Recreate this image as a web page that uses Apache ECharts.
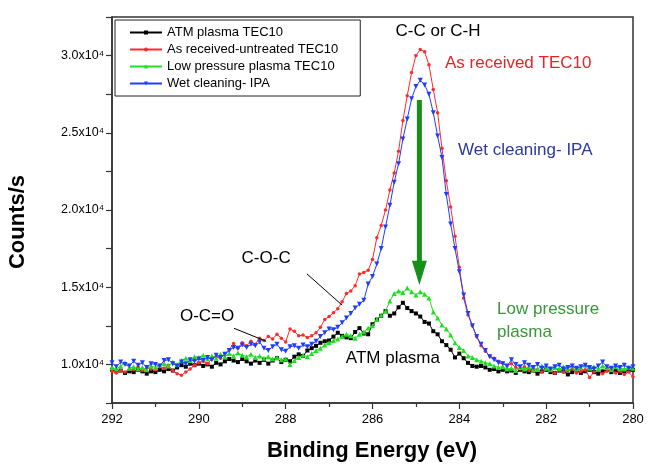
<!DOCTYPE html>
<html>
<head>
<meta charset="utf-8">
<script src="https://cdn.jsdelivr.net/npm/echarts@6/dist/echarts.min.js"></script>
<style>
  html, body { margin: 0; padding: 0; background: #fff; }
  #chart { width: 648px; height: 465px; }
</style>
</head>
<body>
<div id="chart"></div>
<script>
// binding energy grid (eV), 0.1 eV steps
const energy = [
  292.0, 291.9, 291.8, 291.7, 291.6, 291.5, 291.4, 291.3, 291.2, 291.1,
  291.0, 290.9, 290.8, 290.7, 290.6, 290.5, 290.4, 290.3, 290.2, 290.1,
  290.0, 289.9, 289.8, 289.7, 289.6, 289.5, 289.4, 289.3, 289.2, 289.1,
  289.0, 288.9, 288.8, 288.7, 288.6, 288.5, 288.4, 288.3, 288.2, 288.1,
  288.0, 287.9, 287.8, 287.7, 287.6, 287.5, 287.4, 287.3, 287.2, 287.1,
  287.0, 286.9, 286.8, 286.7, 286.6, 286.5, 286.4, 286.3, 286.2, 286.1,
  286.0, 285.9, 285.8, 285.7, 285.6, 285.5, 285.4, 285.3, 285.2, 285.1,
  285.0, 284.9, 284.8, 284.7, 284.6, 284.5, 284.4, 284.3, 284.2, 284.1,
  284.0, 283.9, 283.8, 283.7, 283.6, 283.5, 283.4, 283.3, 283.2, 283.1,
  283.0, 282.9, 282.8, 282.7, 282.6, 282.5, 282.4, 282.3, 282.2, 282.1,
  282.0, 281.9, 281.8, 281.7, 281.6, 281.5, 281.4, 281.3, 281.2, 281.1,
  281.0, 280.9, 280.8, 280.7, 280.6, 280.5, 280.4, 280.3, 280.2, 280.1,
  280.0
];

// ATM plasma TEC10
const atmPlasma = [
  9650, 9550, 9600, 9450, 9550, 9500, 9650, 9550, 9400, 9550,
  9500, 9650, 9550, 9700, 9600, 9800, 9950, 9850, 10050, 9950,
  10050, 9900, 10000, 9850, 10100, 10000, 10200, 10350, 10250, 10150,
  10350, 10200, 10050, 10250, 10100, 10300, 10050, 10250, 10400, 10150,
  10300, 10200, 10500, 10650, 10550, 10900, 11050, 11200, 11400, 11500,
  11550, 11800, 12050, 11850, 11750, 11700, 12100, 12350, 12000, 11950,
  12600, 12900, 13150, 13450, 13150, 13300, 13700, 13990, 13650, 13450,
  13300, 13100, 12750, 12650, 12150, 11950, 11500, 11250, 10950, 10450,
  10700, 10400, 10100, 9900, 9850, 9900, 9800, 9650, 9700, 9550,
  9650, 9550, 9600, 9450, 9650, 9550, 9500, 9600, 9400, 9550,
  9650, 9500, 9450, 9600, 9550, 9350, 9500, 9600, 9450, 9550,
  9650, 9500, 9400, 9550, 9650, 9500, 9600, 9450, 9550, 9600,
  9650
];

// As received-untreated TEC10
const asReceived = [
  9550, 9450, 9600, 9500, 9700, 9650, 9850, 9600, 9800, 9700,
  9650, 9850, 9750, 9950, 9600, 9400, 9300, 9500, 9700, 9950,
  10100, 10200, 10050, 10350, 10500, 10400, 10700, 10950, 11350, 11050,
  11400, 11200, 11500, 11300, 11700, 11550, 11800, 11650, 11950, 11700,
  11450, 12300, 12150, 11850, 11900, 11750, 11850, 12050, 12400, 12900,
  13100, 13350, 13600, 14050, 14600, 14750, 15100, 15850, 15950, 16100,
  16800, 18200, 19000, 20000, 21300, 22400, 23800, 25800, 27400, 28900,
  30000, 30400, 30250, 29400, 27800, 26300, 24000, 21900, 20200, 18300,
  16300, 14300, 13200, 12500, 11800, 11200, 10850, 10550, 10400, 10200,
  10100, 9900, 10050, 9800, 9700, 9850, 9600, 9750, 9650, 9500,
  9700, 9600, 9450, 9650, 9500, 9600, 9700, 9450, 9550, 9650,
  9150, 9500, 9600, 9400, 9550, 9650, 9450, 9550, 9350, 9500,
  9200
];

// Low pressure plasma TEC10
const lowPressure = [
  9800, 9700, 9900, 10100, 9750, 9850, 9700, 9800, 9650, 9900,
  9800, 9950, 10050, 9900, 10150, 10000, 10250, 10400, 10250, 10500,
  10450, 10600, 10350, 10550, 10400, 10650, 10500, 10700, 10550, 10750,
  10600, 10500, 10650, 10450, 10550, 10400, 10500, 10350, 10450, 10300,
  10350, 10000, 10250, 10450, 10600, 10500, 10700, 10900, 11050, 11250,
  11400, 11550, 11650, 11800, 11950, 11850, 11700, 11950, 12100, 12350,
  12500, 12900, 13200, 13450, 14100, 14600, 14750, 14650, 14950, 14700,
  14500, 14700, 14550, 14300, 13400, 13000, 12550, 12300, 11900, 11400,
  11100, 10900, 10550, 10450, 10300, 10200, 10100, 10050, 9900, 9800,
  9850, 9700, 9750, 9600, 9800, 9700, 9850, 9650, 9700, 9900,
  9750, 9650, 9800, 9700, 9850, 9750, 9900, 9700, 9800, 9950,
  9750, 9850, 9700, 9900, 9800, 9650, 9850, 9750, 9700, 9800,
  9750
];

// Wet cleaning- IPA
const wetCleaning = [
  10100, 9850, 10150, 10000, 9900, 10200, 9950, 10100, 9800, 10050,
  10000, 9900, 10250, 10300, 10050, 9900, 10150, 10050, 10300, 10200,
  10350, 10250, 10450, 10300, 10600, 10450, 10650, 10900, 11100, 11050,
  11250, 11100, 11300, 11200, 11450, 11050, 10900, 11150, 11300, 10950,
  10850, 11150, 11200, 11050, 11250, 11150, 11300, 11500, 11800, 12050,
  12300, 12250, 12400, 12700, 13000, 13300, 13650, 13900, 14150, 15200,
  15700, 16500, 17500, 18900, 20300, 21800, 23000, 24600, 25900, 27200,
  28000, 28400, 28100, 27500, 26300, 24800, 23400, 21000, 19100, 17500,
  16000, 14500, 13300, 12500, 11800, 11300, 10900, 10500, 10300, 10100,
  10050, 9900, 10300, 10000, 9850, 10100, 9950, 9800, 10000, 9750,
  9900, 9700, 9850, 9950, 9700, 9800, 9900, 9750, 9850, 9950,
  9800, 9700, 9900, 10150, 9850, 9750, 9900, 9800, 9950, 9750,
  9850
];

const seriesNames = ['ATM plasma TEC10', 'As received-untreated TEC10', 'Low pressure plasma TEC10', 'Wet cleaning- IPA'];
const seriesColors = ['#000000', '#ff2a2a', '#1fe01f', '#1f3dff'];
const xTicks = [280, 292, 2];
const yTicks = [7500, 32500, 2500];

const font = 'Arial, "Liberation Sans", sans-serif';
const chart = echarts.init(document.getElementById('chart'));

function pairs(vals) {
  return energy.map((e, i) => [e, vals[i]]);
}

function lineSeries(idx, vals, symbol, size, rotate) {
  return {
    name: seriesNames[idx],
    type: 'line',
    data: pairs(vals),
    symbol: symbol,
    symbolSize: size,
    symbolRotate: rotate || 0,
    showSymbol: true,
    color: seriesColors[idx],
    lineStyle: { width: 1, color: seriesColors[idx] },
    itemStyle: { color: seriesColors[idx] },
    animation: false,
    z: 3 + idx
  };
}

const option = {
  backgroundColor: '#fff',
  animation: false,
  grid: {
    left: 112, right: 15, top: 17, bottom: 62,
    show: true, borderColor: '#333', borderWidth: 1.5
  },
  legend: {
    orient: 'vertical',
    left: 115, top: 20,
    padding: [6, 22, 6, 14],
    itemWidth: 32, itemHeight: 5, itemGap: 4,
    borderColor: '#222', borderWidth: 1,
    backgroundColor: '#fff',
    textStyle: { fontSize: 13, fontFamily: font, color: '#000', lineHeight: 13 },
    data: seriesNames
  },
  xAxis: {
    type: 'value',
    min: xTicks[0], max: xTicks[1], interval: xTicks[2],
    inverse: true,
    axisLine: { lineStyle: { color: '#333', width: 1.5 } },
    axisTick: { length: 6, lineStyle: { color: '#333', width: 1.2 } },
    minorTick: { show: true, splitNumber: 2, length: 4, lineStyle: { color: '#333', width: 1.2 } },
    splitLine: { show: false },
    axisLabel: { fontSize: 13, fontFamily: font, color: '#000', margin: 10 }
  },
  yAxis: {
    type: 'value',
    min: yTicks[0], max: yTicks[1], interval: yTicks[2],
    axisLine: { show: true, lineStyle: { color: '#333', width: 1.5 } },
    axisTick: { show: true, length: 6, lineStyle: { color: '#333', width: 1.2 } },
    splitLine: { show: false },
    axisLabel: {
      fontSize: 12.5, fontFamily: font, color: '#000', margin: 8,
      formatter: function (v) {
        return v % 5000 === 0 ? (v / 10000).toFixed(1) + 'x10\u2074' : '';
      }
    }
  },
  series: [
    lineSeries(0, atmPlasma, 'rect', 4),
    lineSeries(1, asReceived, 'circle', 3.5),
    lineSeries(2, lowPressure, 'triangle', 5),
    lineSeries(3, wetCleaning, 'triangle', 5, 180)
  ]
};
chart.setOption(option);

// annotations placed in data units
const p = (x, y) => chart.convertToPixel({ gridIndex: 0 }, [x, y]);
function label(text, x, y, color, align, size, bold) {
  const pt = p(x, y);
  return {
    type: 'text', x: pt[0], y: pt[1], z: 20,
    style: {
      text: text, fill: color, align: align, verticalAlign: 'middle',
      fontSize: size, fontFamily: font, fontWeight: bold ? 'bold' : 'normal'
    }
  };
}
function leader(x1, y1, x2, y2) {
  const a = p(x1, y1), b = p(x2, y2);
  return {
    type: 'line', z: 20,
    shape: { x1: a[0], y1: a[1], x2: b[0], y2: b[1] },
    style: { stroke: '#000', lineWidth: 1 }
  };
}
const aTop = p(284.92, 27130), aBase = p(284.92, 16580), aTip = p(284.92, 15150);

chart.setOption({
  graphic: [
    {
      type: 'rect', z: 20,
      shape: { x: aTop[0] - 2.5, y: aTop[1], width: 5, height: aBase[1] - aTop[1] },
      style: { fill: '#17901a' }
    },
    {
      type: 'polygon', z: 20,
      shape: { points: [[aBase[0] - 7.5, aBase[1] - 2], [aBase[0] + 7.5, aBase[1] - 2], [aTip[0], aTip[1]]] },
      style: { fill: '#17901a' }
    },
    leader(287.51, 15860, 286.70, 13840),
    leader(289.19, 12340, 288.45, 11500),
    label('C-C or C-H', 284.49, 31560, '#000', 'center', 17),
    label('As received TEC10', 284.33, 29470, '#e8222a', 'left', 17),
    label('Wet cleaning- IPA', 284.03, 23870, '#2b3a9e', 'left', 17),
    label('C-O-C', 288.45, 16900, '#000', 'center', 17),
    label('O-C=O', 289.81, 13130, '#000', 'center', 17),
    label('ATM plasma', 285.53, 10390, '#000', 'center', 17),
    label('Low pressure', 283.13, 13580, '#3a963a', 'left', 17),
    label('plasma', 283.13, 12080, '#3a963a', 'left', 17),
    {
      type: 'text', x: 18, y: 222, rotation: Math.PI / 2, z: 20,
      style: {
        text: 'Counts/s', fill: '#000', align: 'center', verticalAlign: 'middle',
        fontSize: 22, fontWeight: 'bold', fontFamily: font
      }
    },
    {
      type: 'text', x: 372, y: 451, z: 20,
      style: {
        text: 'Binding Energy (eV)', fill: '#000', align: 'center', verticalAlign: 'middle',
        fontSize: 22, fontWeight: 'bold', fontFamily: font
      }
    }
  ]
});
</script>
</body>
</html>
